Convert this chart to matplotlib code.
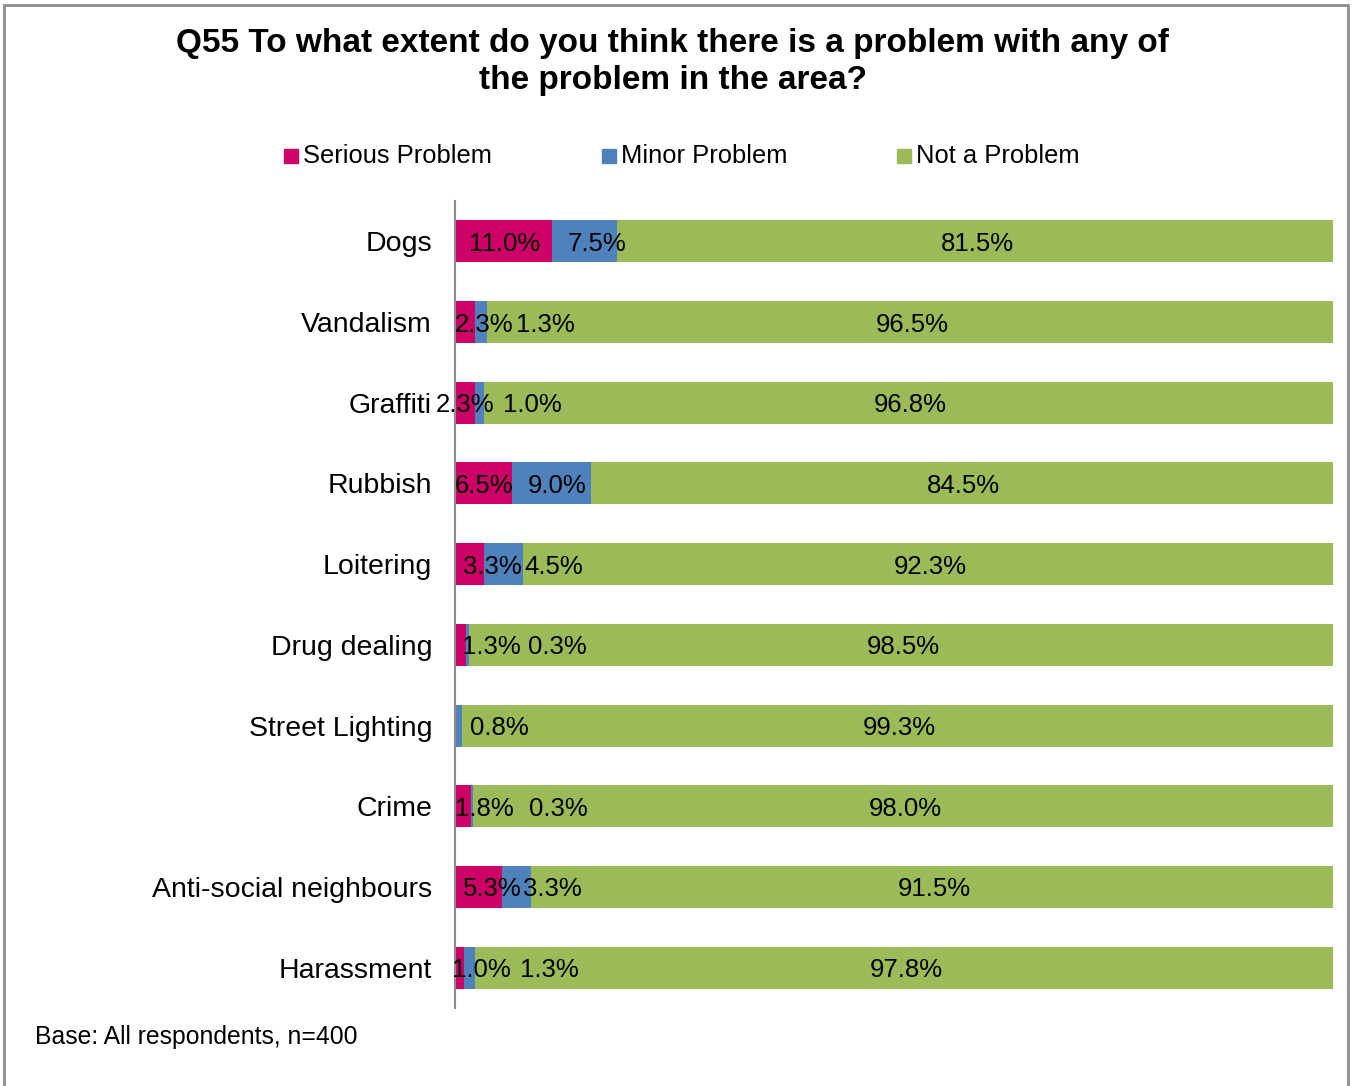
import matplotlib.pyplot as plt
from matplotlib.patches import Rectangle

plt.rcParams['font.family'] = ['Liberation Sans', 'DejaVu Sans']

# Survey results, % of respondents
CATEGORIES = ['Dogs', 'Vandalism', 'Graffiti', 'Rubbish', 'Loitering',
              'Drug dealing', 'Street Lighting', 'Crime',
              'Anti-social neighbours', 'Harassment']
SERIOUS = [11.0, 2.3, 2.3, 6.5, 3.3, 1.3, 0.0, 1.8, 5.3, 1.0]
MINOR   = [7.5, 1.3, 1.0, 9.0, 4.5, 0.3, 0.8, 0.3, 3.3, 1.3]
NOT_A   = [81.5, 96.5, 96.8, 84.5, 92.3, 98.5, 99.3, 98.0, 91.5, 97.8]

SERIES = ['Serious Problem', 'Minor Problem', 'Not a Problem']
COLORS = ['#CC0066', '#4F81BD', '#9BBB59']

# hand-placed label centres (axis %) for the narrow segments
SERIOUS_LBL_X = [5.7, 3.3, 1.2, 3.3, 4.2, 4.1, None, 3.4, 4.2, 3.0]
MINOR_LBL_X   = [16.2, 10.3, 8.8, 11.6, 11.3, 11.7, 5.0, 11.8, 11.1, 10.7]

fig = plt.figure(figsize=(13.54, 10.86), dpi=100)

# outer chart frame
fig.patches.append(Rectangle((3.5 / 1354, -0.01), 1344.5 / 1354, 1.01 - 4.5 / 1086,
                             transform=fig.transFigure, fill=False,
                             edgecolor='#8C8C8C', linewidth=2))

ax = fig.add_axes([455 / 1354, 1 - 1008 / 1086, 878 / 1354, 807 / 1086])

y = list(range(len(CATEGORIES)))
lefts = [0.0] * len(CATEGORIES)
for vals, col in zip([SERIOUS, MINOR, NOT_A], COLORS):
    ax.barh(y, vals, left=lefts, height=0.52, color=col, linewidth=0)
    lefts = [l + v for l, v in zip(lefts, vals)]

LBL = dict(ha='center', va='center_baseline', fontsize=18.5)
for i in y:
    if SERIOUS[i] > 0:
        ax.text(SERIOUS_LBL_X[i], i, f'{SERIOUS[i]:.1f}%', **LBL)
    ax.text(MINOR_LBL_X[i], i, f'{MINOR[i]:.1f}%', **LBL)
    start = SERIOUS[i] + MINOR[i]
    ax.text(start + NOT_A[i] / 2 + 0.2, i, f'{NOT_A[i]:.1f}%', **LBL)

ax.set_xlim(0, 100)
ax.set_ylim(len(CATEGORIES) - 0.5, -0.5)
ax.set_yticks(y)
ax.set_yticklabels(CATEGORIES, fontsize=20.5)
ax.tick_params(axis='y', length=0, pad=16.5)
ax.set_xticks([])
for s in ['top', 'right', 'bottom']:
    ax.spines[s].set_visible(False)
ax.spines['left'].set_color('#8C8C8C')
ax.spines['left'].set_linewidth(1.5)

fig.text(673 / 1354, 1 - 62 / 1086,
         'Q55 To what extent do you think there is a problem with any of\nthe problem in the area?',
         ha='center', va='center', fontsize=24, fontweight='bold', linespacing=1.27)

# legend
legend_x = [284, 602, 897]
for name, col, lx in zip(SERIES, COLORS, legend_x):
    fig.patches.append(Rectangle((lx / 1354, 1 - 163 / 1086), 14 / 1354, 14 / 1086,
                                 transform=fig.transFigure, color=col))
    fig.text((lx + 19) / 1354, 1 - 156 / 1086, name, ha='left', va='center',
             fontsize=18.4)

fig.text(35 / 1354, 1 - 1037 / 1086, 'Base: All respondents, n=400',
         ha='left', va='center', fontsize=17.8)

fig.savefig('out.png', dpi=100)
